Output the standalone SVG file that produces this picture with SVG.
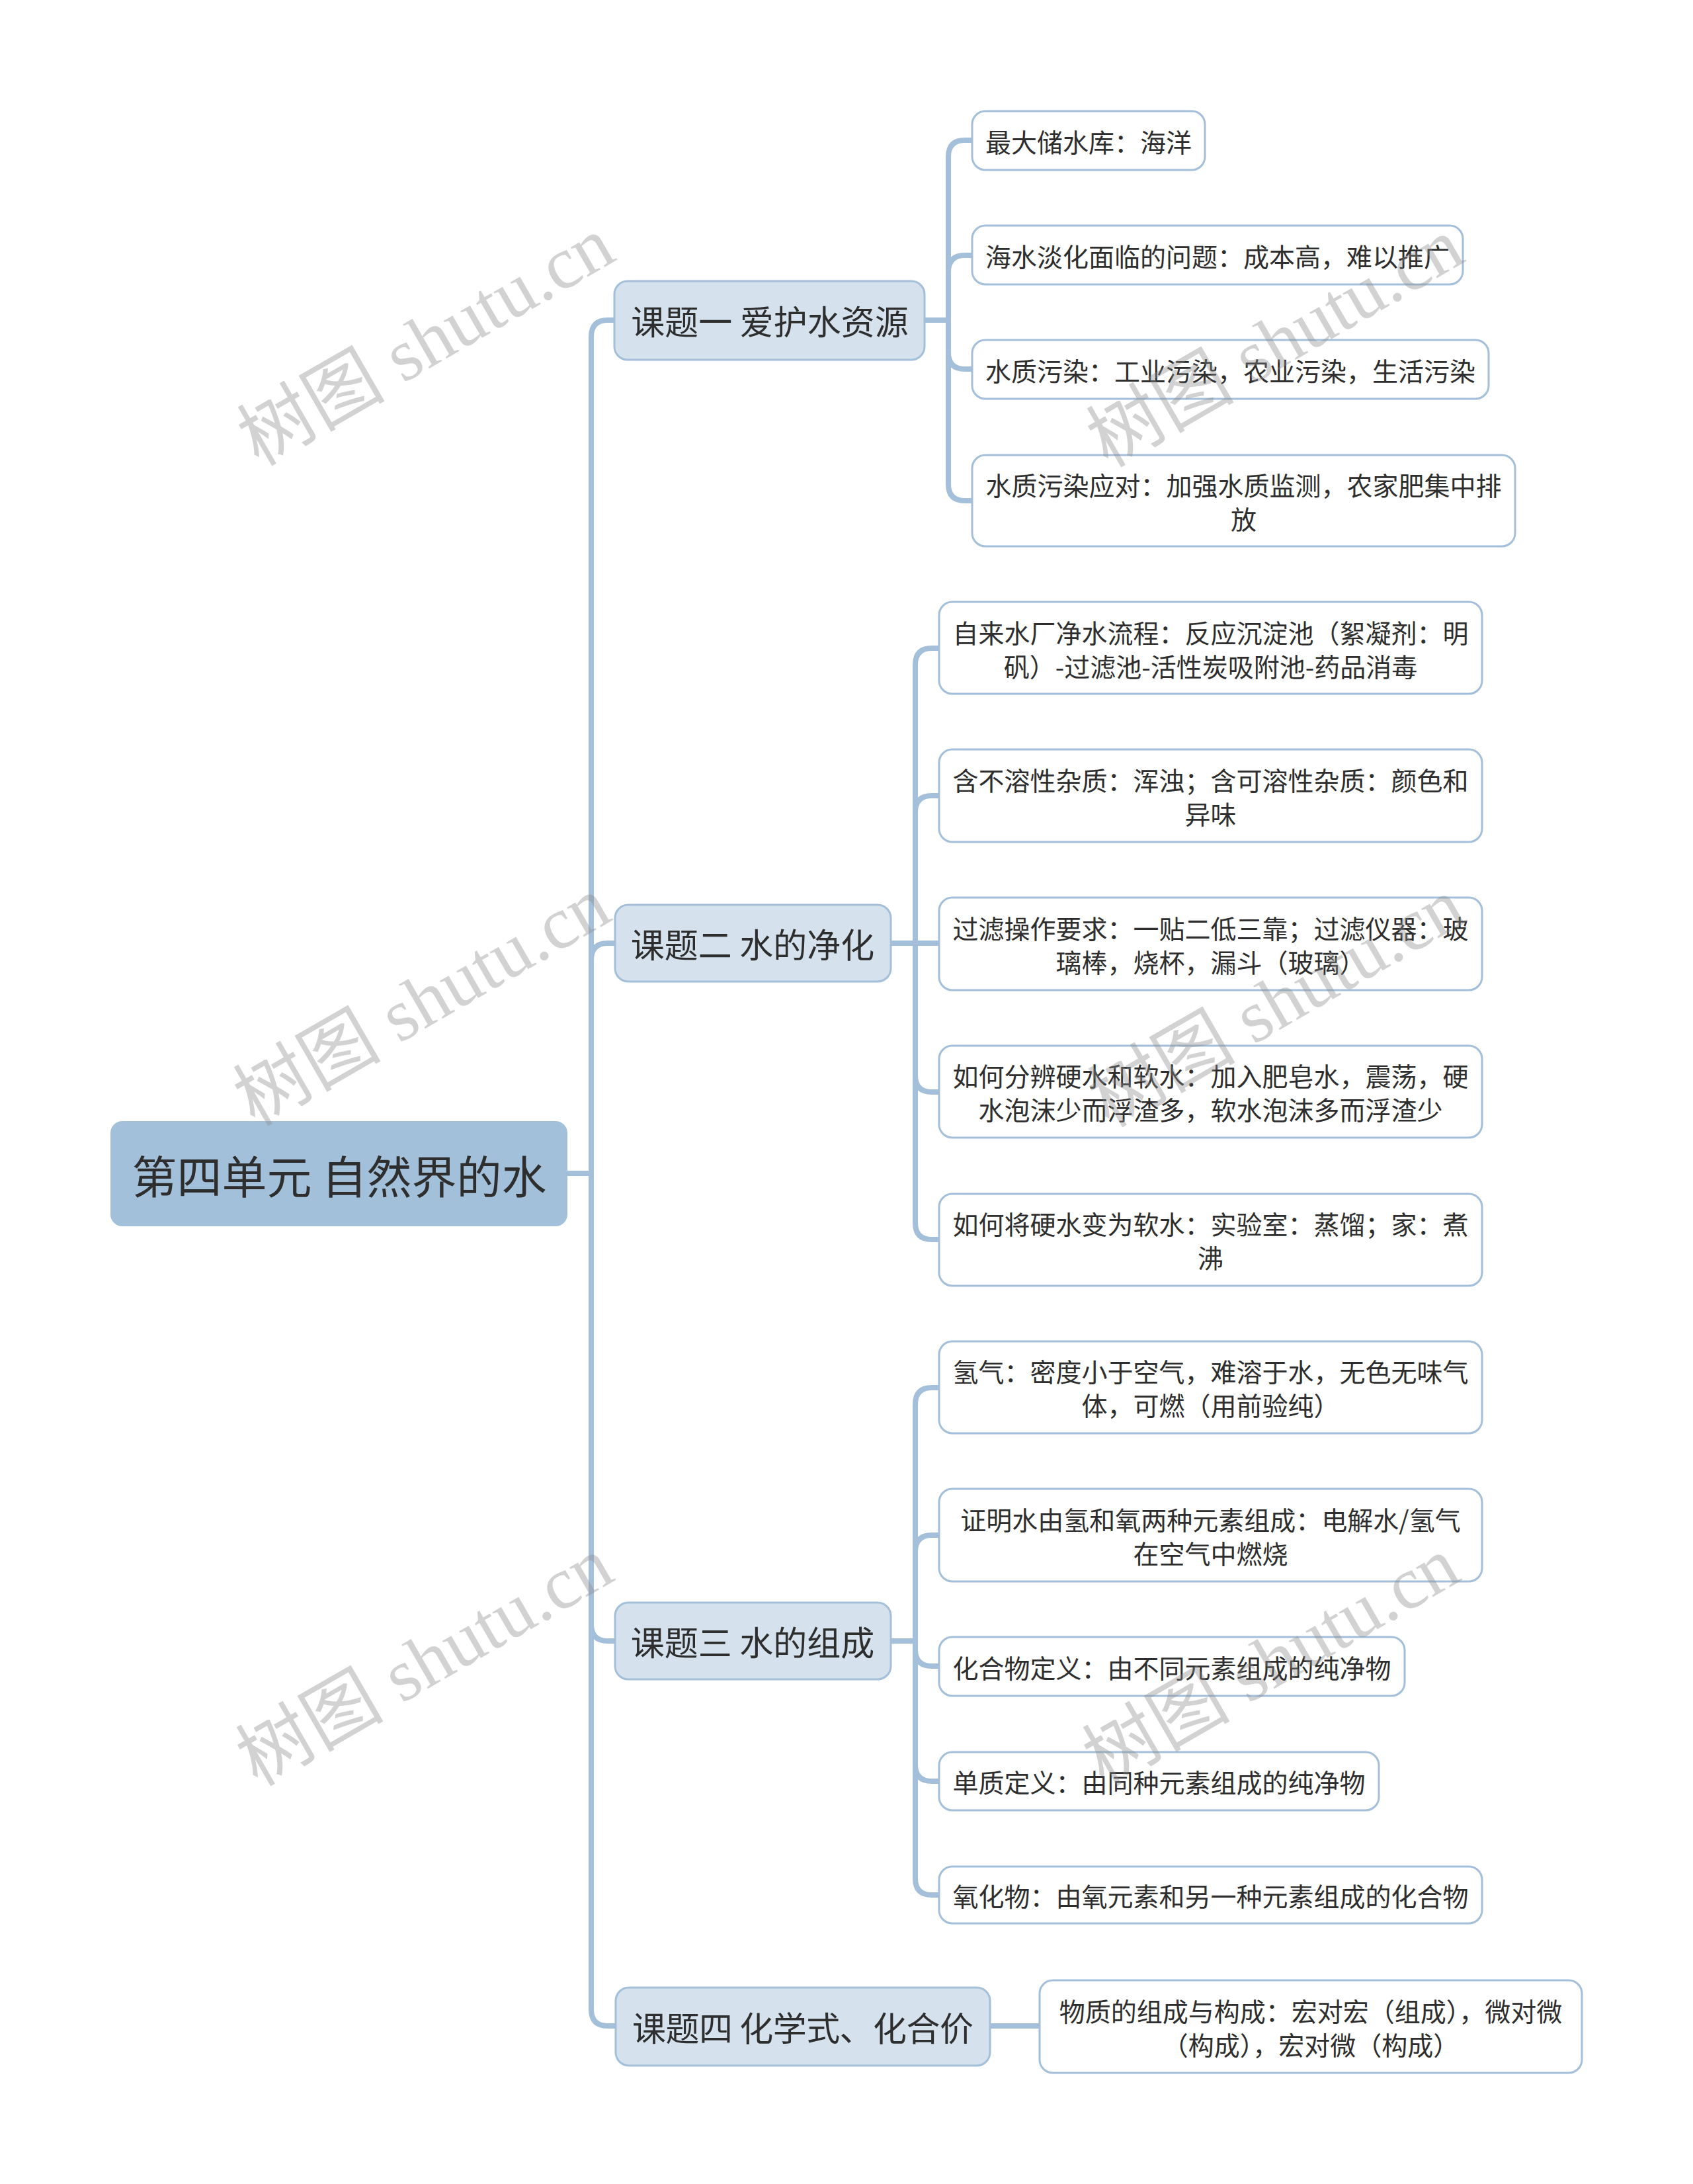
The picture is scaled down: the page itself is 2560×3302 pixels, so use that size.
<svg xmlns="http://www.w3.org/2000/svg" width="2560" height="3302" viewBox="0 0 2560 3302">
<style>
.c{fill:none;stroke:#a3bfd9;stroke-width:8}
.root rect{fill:#a3c0da}
.l1 rect{fill:#d5e2ed;stroke:#a3bfd9;stroke-width:3}
.leaf rect{fill:#ffffff;stroke:#a3bfd9;stroke-width:3}
text{font-family:"Noto Sans CJK SC","Noto Sans",sans-serif;fill:#2e2e2e;text-anchor:middle;dominant-baseline:central}
.root text{font-size:68px}
.l1 text{font-size:51px}
.leaf text{font-size:39px}
.wm{font-family:"Liberation Serif","Noto Sans CJK SC",serif;font-size:112px;fill:#8c8c8c;opacity:0.38;text-anchor:middle;dominant-baseline:central}
</style>
<rect width="2560" height="3302" fill="#ffffff"/>
<g id="connectors">
<path class="c" d="M858,1774 H894 V509 Q894,484 919,484 H930"/>
<path class="c" d="M858,1774 H894 V1451 Q894,1426 919,1426 H930"/>
<path class="c" d="M858,1774 H894 V2456 Q894,2481 919,2481 H930"/>
<path class="c" d="M858,1774 H894 V3038 Q894,3063 919,3063 H931"/>
<path class="c" d="M1398,484 H1434 V237 Q1434,212 1459,212 H1470"/>
<path class="c" d="M1398,484 H1434 V411 Q1434,386 1459,386 H1470"/>
<path class="c" d="M1398,484 H1434 V533 Q1434,558 1459,558 H1470"/>
<path class="c" d="M1398,484 H1434 V732 Q1434,757 1459,757 H1470"/>
<path class="c" d="M1347,1426 H1384 V1005 Q1384,980 1409,980 H1420"/>
<path class="c" d="M1347,1426 H1384 V1228 Q1384,1203 1409,1203 H1420"/>
<path class="c" d="M1347,1426 H1420"/>
<path class="c" d="M1347,1426 H1384 V1626 Q1384,1651 1409,1651 H1420"/>
<path class="c" d="M1347,1426 H1384 V1849 Q1384,1874 1409,1874 H1420"/>
<path class="c" d="M1347,2481 H1384 V2123 Q1384,2098 1409,2098 H1420"/>
<path class="c" d="M1347,2481 H1384 V2346 Q1384,2321 1409,2321 H1420"/>
<path class="c" d="M1347,2481 H1384 V2494 Q1384,2519 1409,2519 H1420"/>
<path class="c" d="M1347,2481 H1384 V2668 Q1384,2693 1409,2693 H1420"/>
<path class="c" d="M1347,2481 H1384 V2840 Q1384,2865 1409,2865 H1420"/>
<path class="c" d="M1497,3063 H1572"/>
</g>
<g id="root" class="root">
<rect x="167" y="1695" width="691" height="159" rx="18"/>
<text x="513" y="1775">第四单元 自然界的水</text>
</g>
<g id="t1" class="l1">
<rect x="929" y="425" width="469" height="119" rx="20"/>
<text x="1164" y="484">课题一 爱护水资源</text>
</g>
<g id="t2" class="l1">
<rect x="930" y="1368" width="417" height="116" rx="20"/>
<text x="1138" y="1426">课题二 水的净化</text>
</g>
<g id="t3" class="l1">
<rect x="930" y="2423" width="417" height="116" rx="20"/>
<text x="1138" y="2481">课题三 水的组成</text>
</g>
<g id="t4" class="l1">
<rect x="931" y="3005" width="566" height="118" rx="20"/>
<text x="1214" y="3064" textLength="516" lengthAdjust="spacing">课题四 化学式、化合价</text>
</g>
<g id="t1a" class="leaf">
<rect x="1470" y="168" width="352" height="89" rx="20"/>
<text x="1646" y="212.5">最大储水库：海洋</text>
</g>
<g id="t1b" class="leaf">
<rect x="1470" y="341" width="742" height="89" rx="20"/>
<text x="1841" y="385.5">海水淡化面临的问题：成本高，难以推广</text>
</g>
<g id="t1c" class="leaf">
<rect x="1470" y="514" width="781" height="89" rx="20"/>
<text x="1860.5" y="558.5">水质污染：工业污染，农业污染，生活污染</text>
</g>
<g id="t1d" class="leaf">
<rect x="1470" y="688" width="821" height="138" rx="20"/>
<text x="1880.5" y="732">水质污染应对：加强水质监测，农家肥集中排</text>
<text x="1880.5" y="783">放</text>
</g>
<g id="t2a" class="leaf">
<rect x="1420" y="910" width="821" height="139" rx="20"/>
<text x="1830.5" y="955">自来水厂净水流程：反应沉淀池（絮凝剂：明</text>
<text x="1830.5" y="1006">矾）-过滤池-活性炭吸附池-药品消毒</text>
</g>
<g id="t2b" class="leaf">
<rect x="1420" y="1133" width="821" height="140" rx="20"/>
<text x="1830.5" y="1178">含不溶性杂质：浑浊；含可溶性杂质：颜色和</text>
<text x="1830.5" y="1229">异味</text>
</g>
<g id="t2c" class="leaf">
<rect x="1420" y="1357" width="821" height="140" rx="20"/>
<text x="1830.5" y="1402">过滤操作要求：一贴二低三靠；过滤仪器：玻</text>
<text x="1830.5" y="1453">璃棒，烧杯，漏斗（玻璃）</text>
</g>
<g id="t2d" class="leaf">
<rect x="1420" y="1581" width="821" height="139" rx="20"/>
<text x="1830.5" y="1625">如何分辨硬水和软水：加入肥皂水，震荡，硬</text>
<text x="1830.5" y="1676">水泡沫少而浮渣多，软水泡沫多而浮渣少</text>
</g>
<g id="t2e" class="leaf">
<rect x="1420" y="1805" width="821" height="139" rx="20"/>
<text x="1830.5" y="1849">如何将硬水变为软水：实验室：蒸馏；家：煮</text>
<text x="1830.5" y="1900">沸</text>
</g>
<g id="t3a" class="leaf">
<rect x="1420" y="2028" width="821" height="139" rx="20"/>
<text x="1830.5" y="2072">氢气：密度小于空气，难溶于水，无色无味气</text>
<text x="1830.5" y="2123">体，可燃（用前验纯）</text>
</g>
<g id="t3b" class="leaf">
<rect x="1420" y="2251" width="821" height="140" rx="20"/>
<text x="1830.5" y="2295.5">证明水由氢和氧两种元素组成：电解水/氢气</text>
<text x="1830.5" y="2346.5">在空气中燃烧</text>
</g>
<g id="t3c" class="leaf">
<rect x="1420" y="2475" width="704" height="89" rx="20"/>
<text x="1772" y="2519.5">化合物定义：由不同元素组成的纯净物</text>
</g>
<g id="t3d" class="leaf">
<rect x="1420" y="2649" width="665" height="88" rx="20"/>
<text x="1752.5" y="2693">单质定义：由同种元素组成的纯净物</text>
</g>
<g id="t3e" class="leaf">
<rect x="1420" y="2822" width="821" height="86" rx="20"/>
<text x="1830.5" y="2865">氧化物：由氧元素和另一种元素组成的化合物</text>
</g>
<g id="t4a" class="leaf">
<rect x="1572" y="2994" width="820" height="140" rx="20"/>
<text x="1982" y="3038.5">物质的组成与构成：宏对宏（组成），微对微</text>
<text x="1982" y="3089.5">（构成），宏对微（构成）</text>
</g>
<g id="watermarks">
<text class="wm" transform="translate(644,516) rotate(-30)">树图 shutu.cn</text>
<text class="wm" transform="translate(1928,518) rotate(-30)">树图 shutu.cn</text>
<text class="wm" transform="translate(638,1514) rotate(-30)">树图 shutu.cn</text>
<text class="wm" transform="translate(1930,1516) rotate(-30)">树图 shutu.cn</text>
<text class="wm" transform="translate(642,2512) rotate(-30)">树图 shutu.cn</text>
<text class="wm" transform="translate(1922,2512) rotate(-30)">树图 shutu.cn</text>
</g>
</svg>
